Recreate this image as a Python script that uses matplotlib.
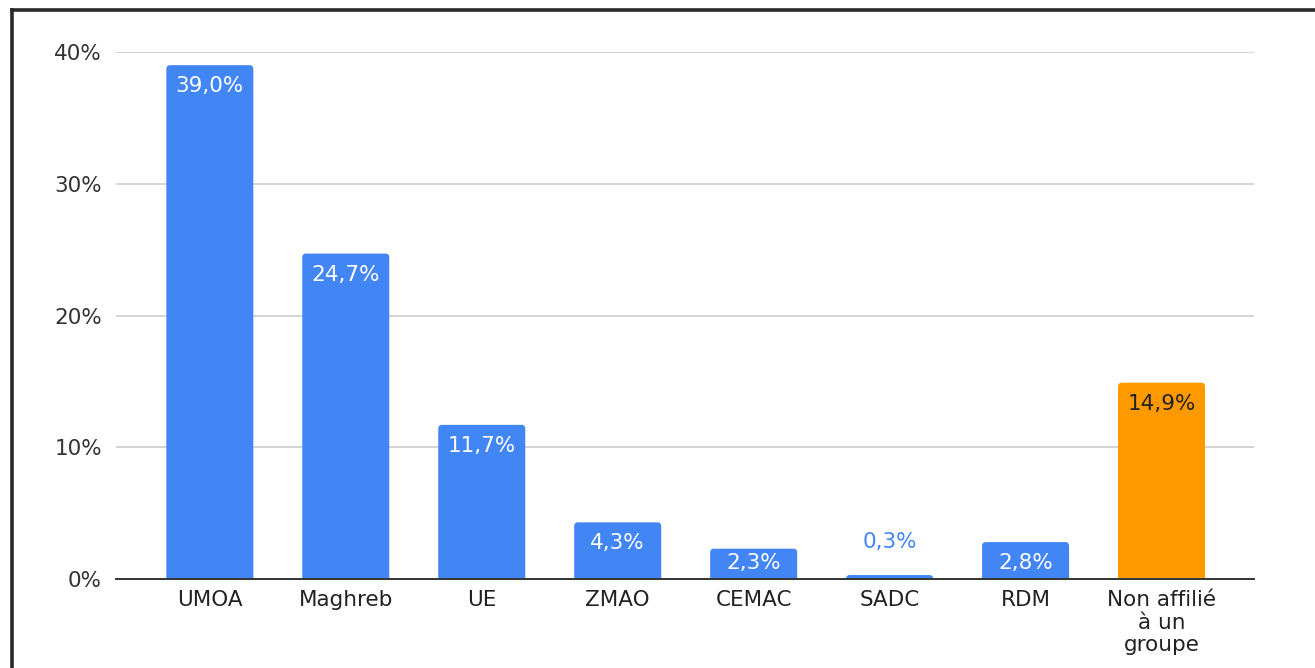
import matplotlib.pyplot as plt
from matplotlib.lines import Line2D
from matplotlib.patches import FancyBboxPatch

categories = ["UMOA", "Maghreb", "UE", "ZMAO", "CEMAC", "SADC", "RDM",
              "Non affilié\nà un\ngroupe"]
values = [39.0, 24.7, 11.7, 4.3, 2.3, 0.3, 2.8, 14.9]
colors = ["#4285F4"] * 7 + ["#FF9900"]
yticks = [0, 10, 20, 30, 40]

plt.rcParams["font.family"] = ["DejaVu Sans"]
fs = 15.5
width = 0.64

fig = plt.figure(figsize=(13.15, 6.68), dpi=100)
ax = fig.add_axes([116 / 1315, 1 - 579 / 668, (1254 - 116) / 1315, (579 - 52) / 668])
ax.set_xlim(-0.69, 7.68)
ax.set_ylim(0, 40)

# bars with slightly rounded top corners (bottom hidden below the axis)
x = range(len(categories))
bars = ax.bar(x, values, width=width, color=colors, zorder=2)
aspect = 136 / 13.175
for b in bars:
    b.set_visible(False)
    p = FancyBboxPatch((b.get_x(), -1), b.get_width(), b.get_height() + 1,
                       boxstyle="round,pad=0,rounding_size=0.028",
                       mutation_aspect=aspect, facecolor=b.get_facecolor(),
                       edgecolor="none", zorder=2, clip_on=True)
    ax.add_patch(p)

for i, v in enumerate(values):
    label = f"{v:.1f}%".replace(".", ",")
    if v < 2:
        ax.text(i, v + 2.5, label, ha="center", va="center", fontsize=fs,
                color="#4285F4")
    else:
        c = "#222222" if colors[i] == "#FF9900" else "white"
        ax.text(i, max(v - 1.6, 1.2), label, ha="center", va="center",
                fontsize=fs, color=c, zorder=3)

ax.set_yticks(yticks)
ax.set_yticklabels([f"{t}%" for t in yticks], fontsize=fs, color="#333333")
ax.set_xticks(list(x))
ax.set_xticklabels(categories, fontsize=fs, color="#222222", linespacing=1.15)
ax.tick_params(axis="both", length=0)
ax.tick_params(axis="y", pad=10)
ax.tick_params(axis="x", pad=8)
ax.grid(axis="y", color="#cccccc", linewidth=1.2, zorder=0)
ax.set_axisbelow(True)
for s in ["top", "right", "left"]:
    ax.spines[s].set_visible(False)
ax.spines["bottom"].set_color("#333333")
ax.spines["bottom"].set_linewidth(1.4)
ax.spines["bottom"].set_zorder(3)

# frame around the chart
fig.add_artist(Line2D([11.5 / 1315, 11.5 / 1315], [0, 1 - 9.5 / 668],
                      color="#2a2a2a", linewidth=2.6, transform=fig.transFigure))
fig.add_artist(Line2D([11.5 / 1315, 1], [1 - 9.5 / 668, 1 - 9.5 / 668],
                      color="#2a2a2a", linewidth=2.6, transform=fig.transFigure))

fig.savefig("out.png", dpi=100)
